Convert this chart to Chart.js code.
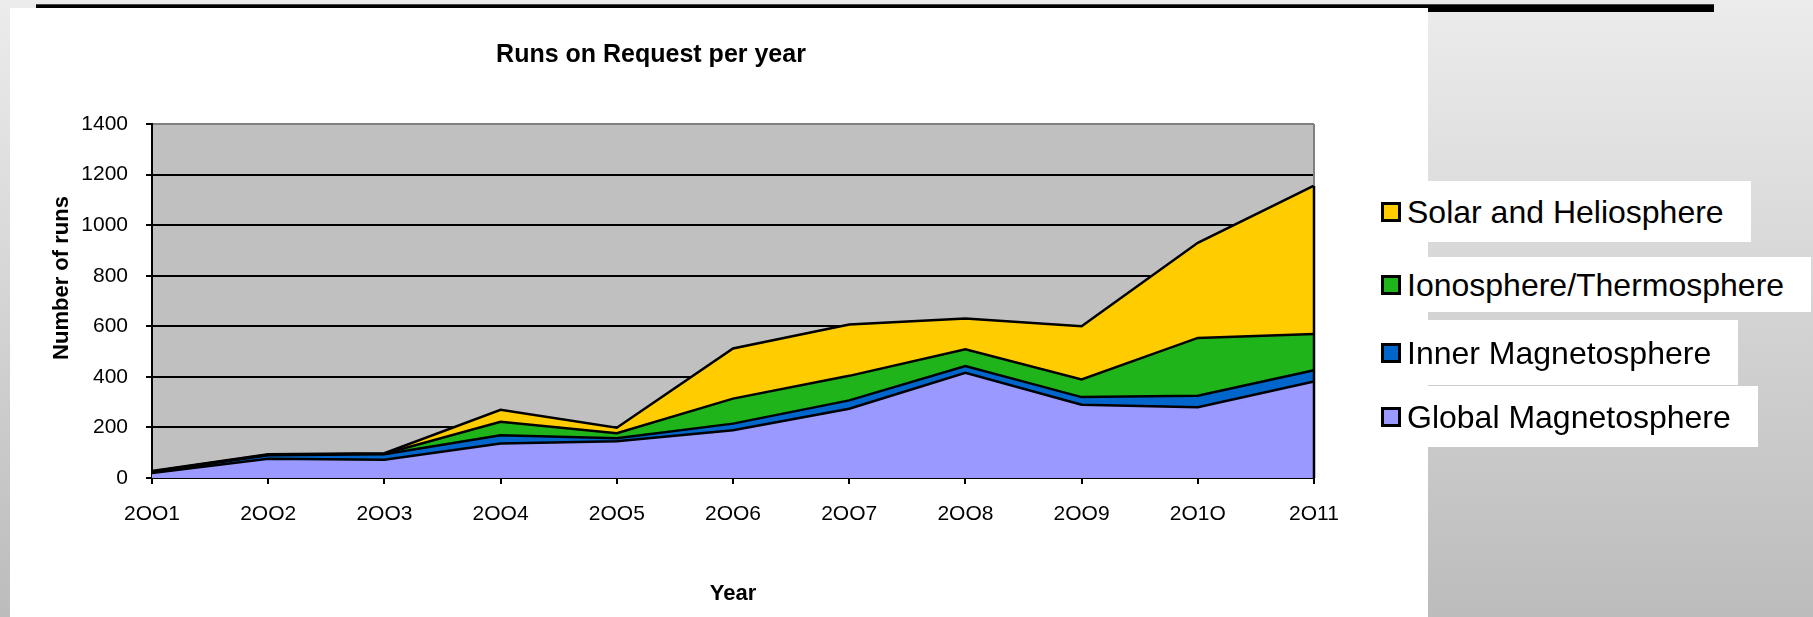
<!DOCTYPE html>
<html lang="en">
<head>
<meta charset="utf-8">
<title>Runs on Request per year</title>
<script src="https://cdn.jsdelivr.net/npm/chart.js@4.4.1/dist/chart.umd.min.js"></script>
<style>
	html,
	body {
		margin: 0;
		padding: 0;
	}
	body {
		position: relative;
		width: 1813px;
		height: 617px;
		overflow: hidden;
		background: linear-gradient(to bottom, #ececec 0%, #bcbcbc 100%);
		font-family: "Liberation Sans", Arial, sans-serif;
	}
	.top-rule {
		position: absolute;
		left: 36px;
		top: 4px;
		width: 1678px;
		height: 8px;
		box-sizing: border-box;
		background: #000;
		border-top: 1px solid #444;
	}
	.panel {
		position: absolute;
		left: 10px;
		top: 8px;
		width: 1418px;
		height: 609px;
		background: #fff;
	}
	#runs-chart {
		position: absolute;
		left: -12px;
		top: 0;
	}
	.legend-item {
		position: absolute;
		left: 1370px;
		display: flex;
		align-items: center;
		box-sizing: border-box;
		padding: 0 27px 0 11px;
		background: #fff;
		color: #000;
		font-size: 32px;
		line-height: 32px;
		white-space: nowrap;
	}
	.legend-swatch {
		width: 14px;
		height: 14px;
		margin-right: 6px;
		border: 3px solid #000;
	}
</style>
</head>
<body>
<div class="top-rule"></div>
<div class="panel"></div>
<canvas id="runs-chart" width="1420" height="617"></canvas>
<div id="legend"></div>

<script>
	// Runs per year, by research domain
	const years = ["2OO1", "2OO2", "2OO3", "2OO4", "2OO5", "2OO6", "2OO7", "2OO8", "2OO9", "2O1O", "2O11"];
	const globalMagnetosphere = [20, 76, 72, 136, 145, 189, 274, 416, 290, 280, 382];
	const innerMagnetosphere = [4, 14, 22, 33, 12, 26, 33, 27, 30, 45, 44];
	const ionoThermosphere = [2, 2, 2, 53, 20, 99, 97, 66, 70, 229, 143];
	const solarHeliosphere = [2, 2, 2, 48, 22, 198, 203, 122, 210, 376, 587];
	const yTicks = [0, 200, 400, 600, 800, 1000, 1200, 1400];

	// Boxes behind each legend row, top to bottom
	const legendRows = [
		{ top: 181, height: 61 },
		{ top: 257, height: 55 },
		{ top: 320, height: 65 },
		{ top: 386, height: 61 },
	];

	Chart.defaults.font.family = '"Liberation Sans", Arial, sans-serif';
	Chart.defaults.color = "#000";

	/**
	 * Grey plot background under the grid
	 */
	const plotBackground = {
		id: "plotBackground",
		beforeDraw: (chart) => {
			const { ctx, chartArea: a } = chart;
			ctx.save();
			ctx.fillStyle = "#c0c0c0";
			ctx.fillRect(a.left, a.top, a.right - a.left, a.bottom - a.top);
			ctx.restore();
		},
	};

	/**
	 * Right frame: grey above the stack, black along the stack's end
	 */
	const plotFrame = {
		id: "plotFrame",
		afterDatasetsDraw: (chart) => {
			const { ctx, chartArea: a } = chart;
			const topMeta = chart.getDatasetMeta(chart.data.datasets.length - 1);
			const lastPoint = topMeta.data[topMeta.data.length - 1];
			ctx.save();
			ctx.lineWidth = 2;
			ctx.strokeStyle = "#808080";
			ctx.beginPath();
			ctx.moveTo(a.right, a.top);
			ctx.lineTo(a.right, lastPoint.y);
			ctx.stroke();
			ctx.strokeStyle = "#000";
			ctx.lineWidth = 2.5;
			ctx.beginPath();
			ctx.moveTo(a.right, lastPoint.y);
			ctx.lineTo(a.right, a.bottom);
			ctx.stroke();
			ctx.restore();
		},
	};

	/**
	 * Vertical axis caption
	 */
	const yCaption = {
		id: "yCaption",
		afterDraw: (chart) => {
			const { ctx, chartArea: a } = chart;
			ctx.save();
			ctx.translate(a.left - 90, a.top + (a.bottom - a.top) * 0.435);
			ctx.rotate(-Math.PI / 2);
			ctx.font = 'bold 22px "Liberation Sans", Arial, sans-serif';
			ctx.fillStyle = "#000";
			ctx.textAlign = "center";
			ctx.textBaseline = "middle";
			ctx.fillText("Number of runs", 0, 0);
			ctx.restore();
		},
	};

	const areaSeries = (label, data, color, fill) => ({
		label,
		data,
		backgroundColor: color,
		borderColor: "#000",
		borderWidth: 2.5,
		pointRadius: 0,
		tension: 0,
		fill,
	});

	const chart = new Chart(document.getElementById("runs-chart"), {
		type: "line",
		data: {
			labels: years,
			datasets: [
				areaSeries("Global Magnetosphere", globalMagnetosphere, "#9999ff", "origin"),
				areaSeries("Inner Magnetosphere", innerMagnetosphere, "#0066cc", "-1"),
				areaSeries("Ionosphere/Thermosphere", ionoThermosphere, "#1fb41a", "-1"),
				areaSeries("Solar and Heliosphere", solarHeliosphere, "#ffcc00", "-1"),
			],
		},
		options: {
			responsive: false,
			animation: false,
			layout: { padding: { left: 0, right: 94, top: 0, bottom: 0 } },
			scales: {
				x: {
					grid: {
						drawOnChartArea: false,
						color: "#000",
						lineWidth: 2,
						tickLength: 6,
					},
					border: { color: "#000", width: 2 },
					ticks: {
						font: { size: 21 },
						padding: 18,
						maxRotation: 0,
						autoSkip: false,
					},
					title: {
						display: true,
						text: "Year",
						font: { size: 22, weight: "bold" },
						padding: { top: 0, bottom: 10 },
					},
					afterFit: (scale) => {
						scale.height = 139;
					},
				},
				y: {
					stacked: true,
					min: yTicks[0],
					max: yTicks[yTicks.length - 1],
					afterBuildTicks: (scale) => {
						scale.ticks = yTicks.map((value) => ({ value }));
					},
					grid: {
						color: (c) => (c.tick && c.tick.value === 1400 ? "#808080" : "#000"),
						tickColor: "#000",
						lineWidth: 2,
						tickLength: 6,
					},
					border: { color: "#000", width: 2 },
					ticks: {
						font: { size: 21 },
						padding: 18,
						callback: (value) => String(value),
					},
					afterFit: (scale) => {
						scale.width = 164;
					},
				},
			},
			plugins: {
				legend: { display: false },
				tooltip: { enabled: false },
				title: {
					display: true,
					text: "Runs on Request per year",
					font: { size: 25, weight: "bold" },
					padding: { top: 40, bottom: 54 },
				},
			},
		},
		plugins: [plotBackground, plotFrame, yCaption],
	});

	// Legend rows, stacked top-down in reverse dataset order
	const legend = document.getElementById("legend");
	chart.data.datasets
		.slice()
		.reverse()
		.forEach((ds, i) => {
			const row = document.createElement("div");
			row.className = "legend-item";
			row.style.top = `${legendRows[i].top}px`;
			row.style.height = `${legendRows[i].height}px`;
			const swatch = document.createElement("span");
			swatch.className = "legend-swatch";
			swatch.style.background = ds.backgroundColor;
			const text = document.createElement("span");
			text.textContent = ds.label;
			row.append(swatch, text);
			legend.append(row);
		});
</script>
</body>
</html>
